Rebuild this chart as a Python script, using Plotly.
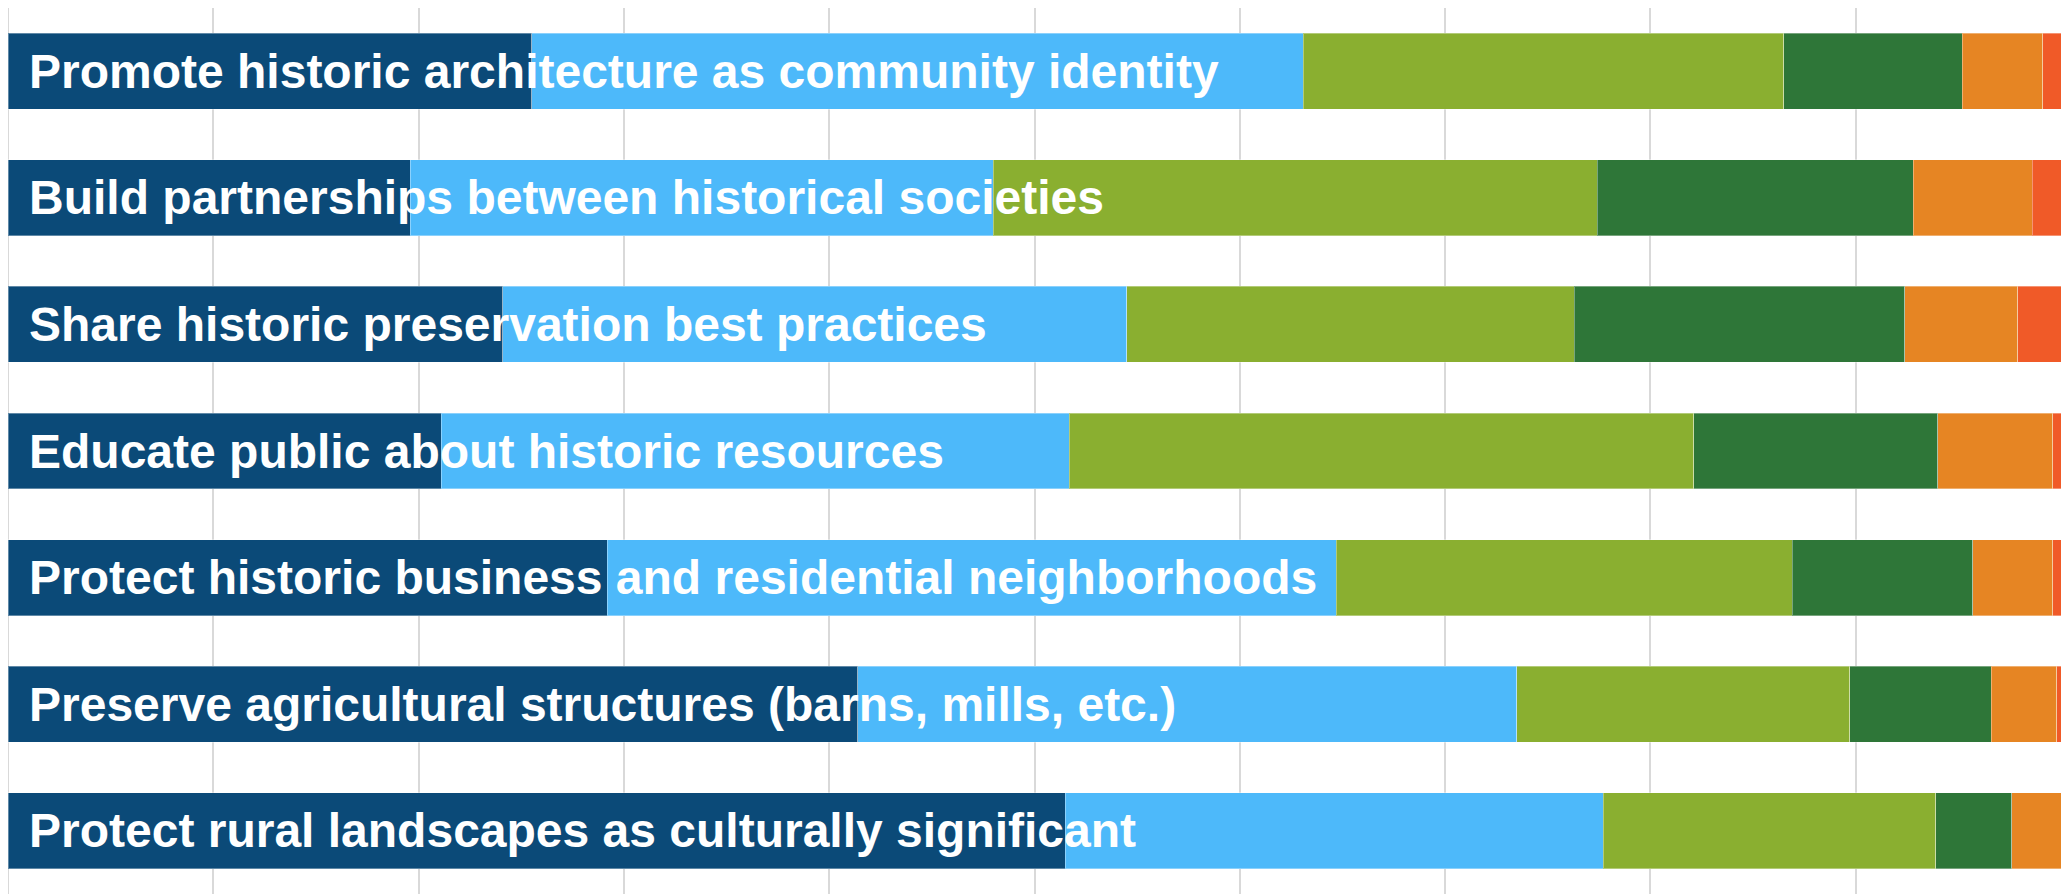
import plotly.graph_objects as go

categories = [
    "Promote historic architecture as community identity",
    "Build partnerships between historical societies",
    "Share historic preservation best practices",
    "Educate public about historic resources",
    "Protect historic business and residential neighborhoods",
    "Preserve agricultural structures (barns, mills, etc.)",
    "Protect rural landscapes as culturally significant",
]

series_names = ["Very important", "Important", "Somewhat important",
                "Neutral", "Not very important", "Not important"]

very_important = [25.5, 19.6, 24.1, 21.1, 29.2, 41.4, 51.5]
important = [37.6, 28.4, 30.4, 30.6, 35.5, 32.1, 26.2]
somewhat_important = [23.4, 29.4, 21.8, 30.4, 22.2, 16.2, 16.2]
neutral = [8.7, 15.4, 16.1, 11.9, 8.8, 6.9, 3.7]
not_very_important = [3.9, 5.8, 5.5, 5.6, 3.9, 3.2, 2.4]
not_important = [0.9, 1.4, 2.1, 0.4, 0.4, 0.2, 0.0]

series_values = [very_important, important, somewhat_important,
                 neutral, not_very_important, not_important]
colors = ["#0B4A78", "#4DB9FA", "#8AAF30", "#2E7638", "#E68523", "#F05A28"]

fig = go.Figure()
for name, vals, col in zip(series_names, series_values, colors):
    fig.add_trace(go.Bar(
        y=categories, x=vals, name=name, orientation="h",
        marker=dict(color=col, line=dict(color="rgba(255,255,255,0.35)", width=1)),
    ))

for cat in categories:
    fig.add_annotation(
        x=0, y=cat, xref="x", yref="y", text=cat, showarrow=False,
        xanchor="left", yanchor="middle", xshift=19,
        font=dict(family="Liberation Sans, Arial, sans-serif", size=48, color="white", weight="bold"),
    )

fig.update_layout(
    width=2063, height=886,
    barmode="stack", bargap=0.4,
    margin=dict(l=0, r=10, t=0, b=0),
    paper_bgcolor="white", plot_bgcolor="white",
    showlegend=False,
    xaxis=dict(range=[0, 100], dtick=10, showgrid=True, gridcolor="#D9D9D9", gridwidth=2,
               zeroline=True, zerolinecolor="#D9D9D9", zerolinewidth=2,
               showticklabels=False, showline=False, fixedrange=True),
    yaxis=dict(autorange="reversed", showticklabels=False, showgrid=False,
               zeroline=False, showline=False, fixedrange=True),
)

fig.write_html("out.html")
